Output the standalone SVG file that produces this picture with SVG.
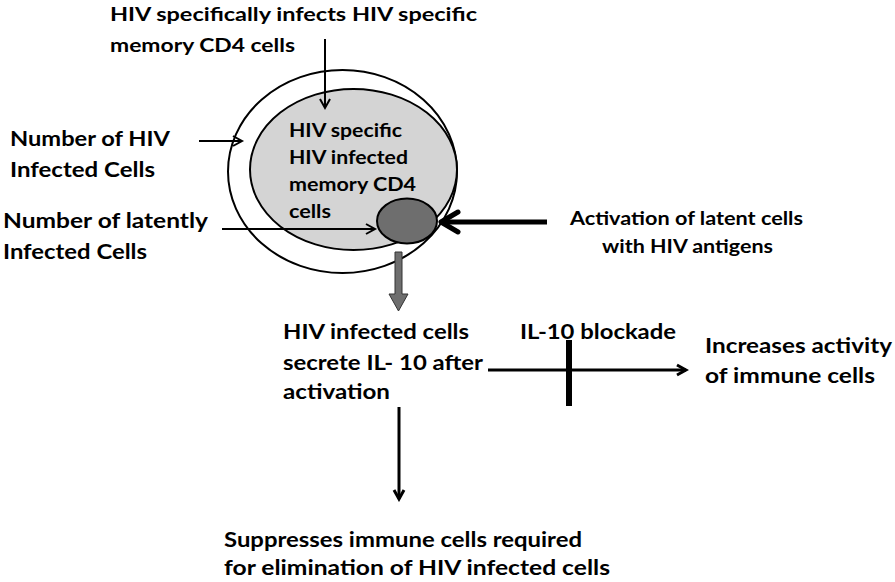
<svg xmlns="http://www.w3.org/2000/svg" width="895" height="582" viewBox="0 0 895 582">
<style>
  text { font-family: Lato, "Liberation Sans", sans-serif; font-weight: bold; fill: #000; }
  .t19 { font-size: 19px; }
  .t21 { font-size: 21px; }
  .ln { stroke: #000; fill: none; stroke-width: 2; }
  .ln3 { stroke: #000; fill: none; stroke-width: 3; }
</style>
<defs>
  <marker id="ah" markerWidth="14" markerHeight="14" refX="11" refY="7" orient="auto" markerUnits="userSpaceOnUse">
    <path d="M2,2 L11,7 L2,12" fill="none" stroke="#000" stroke-width="2"/>
  </marker>
  <marker id="ah3" markerWidth="14" markerHeight="14" refX="11" refY="7" orient="auto" markerUnits="userSpaceOnUse">
    <path d="M2,2 L11,7 L2,12" fill="none" stroke="#000" stroke-width="3"/>
  </marker>
</defs>
<rect width="895" height="582" fill="#fff"/>

<g id="cells">
  <ellipse id="outer" cx="342.5" cy="171.5" rx="114.5" ry="101.5" fill="#fff" stroke="#000" stroke-width="2"/>
  <ellipse id="inner" cx="353.5" cy="169.5" rx="103.5" ry="80.5" fill="#d4d4d4" stroke="#000" stroke-width="2"/>
  <ellipse id="latent" cx="407" cy="221" rx="30" ry="22.5" fill="#6e6e6e" stroke="#000" stroke-width="2"/>
</g>

<g id="inner-label">
  <text class="t19" x="289" y="137" textLength="113" lengthAdjust="spacingAndGlyphs">HIV specific</text>
  <text class="t19" x="289" y="164" textLength="119" lengthAdjust="spacingAndGlyphs">HIV infected</text>
  <text class="t19" x="289" y="191" textLength="127" lengthAdjust="spacingAndGlyphs">memory CD4</text>
  <text class="t19" x="289" y="218" textLength="42" lengthAdjust="spacingAndGlyphs">cells</text>
</g>

<g id="top-label">
  <text class="t19" x="110" y="21" textLength="367" lengthAdjust="spacingAndGlyphs">HIV specifically infects HIV specific</text>
  <text class="t19" x="110" y="52" textLength="185" lengthAdjust="spacingAndGlyphs">memory CD4 cells</text>
</g>

<g id="num-infected">
  <text class="t21" x="10" y="146" textLength="160" lengthAdjust="spacingAndGlyphs">Number of HIV</text>
  <text class="t21" x="10" y="177" textLength="145" lengthAdjust="spacingAndGlyphs">Infected Cells</text>
</g>

<g id="num-latent">
  <text class="t21" x="3" y="228" textLength="205" lengthAdjust="spacingAndGlyphs">Number of latently</text>
  <text class="t21" x="3" y="259" textLength="144" lengthAdjust="spacingAndGlyphs">Infected Cells</text>
</g>

<g id="activation">
  <text class="t19" x="570" y="225" textLength="233" lengthAdjust="spacingAndGlyphs">Activation of latent cells</text>
  <text class="t19" x="602" y="253" textLength="171" lengthAdjust="spacingAndGlyphs">with HIV antigens</text>
</g>

<g id="secrete">
  <text class="t21" x="283" y="339" textLength="186" lengthAdjust="spacingAndGlyphs">HIV infected cells</text>
  <text class="t21" x="283" y="370" textLength="200" lengthAdjust="spacingAndGlyphs">secrete IL- 10 after</text>
  <text class="t21" x="283" y="399" textLength="107" lengthAdjust="spacingAndGlyphs">activation</text>
</g>

<g id="blockade">
  <text class="t21" x="520" y="339" textLength="156" lengthAdjust="spacingAndGlyphs">IL-10 blockade</text>
</g>

<g id="increases">
  <text class="t21" x="705" y="353" textLength="187" lengthAdjust="spacingAndGlyphs">Increases activity</text>
  <text class="t21" x="705" y="383" textLength="170" lengthAdjust="spacingAndGlyphs">of immune cells</text>
</g>

<g id="suppresses">
  <text class="t21" x="224" y="547" textLength="358" lengthAdjust="spacingAndGlyphs">Suppresses immune cells required</text>
  <text class="t21" x="224" y="575" textLength="386" lengthAdjust="spacingAndGlyphs">for elimination of HIV infected cells</text>
</g>

<g id="connectors">
  <line class="ln" x1="325" y1="39" x2="325" y2="108" marker-end="url(#ah)"/>
  <line class="ln" x1="199" y1="141" x2="242" y2="141" marker-end="url(#ah)"/>
  <line class="ln" x1="222" y1="229" x2="375" y2="229" marker-end="url(#ah)"/>
  <line x1="547" y1="222" x2="441" y2="222" stroke="#000" stroke-width="5"/>
  <polyline points="458,212 441,222 458,232" fill="none" stroke="#000" stroke-width="5" stroke-linecap="round" stroke-linejoin="round"/>
  <path d="M395,252 L402,252 L402,294 L408,294 L398.5,311 L389,294 L395,294 Z" fill="#6e6e6e" stroke="#333" stroke-width="1"/>
  <line class="ln3" x1="488" y1="370" x2="686" y2="370" marker-end="url(#ah3)"/>
  <rect x="566" y="340" width="6" height="66" fill="#000"/>
  <line class="ln3" x1="399" y1="407" x2="399" y2="499" marker-end="url(#ah3)"/>
</g>
</svg>
